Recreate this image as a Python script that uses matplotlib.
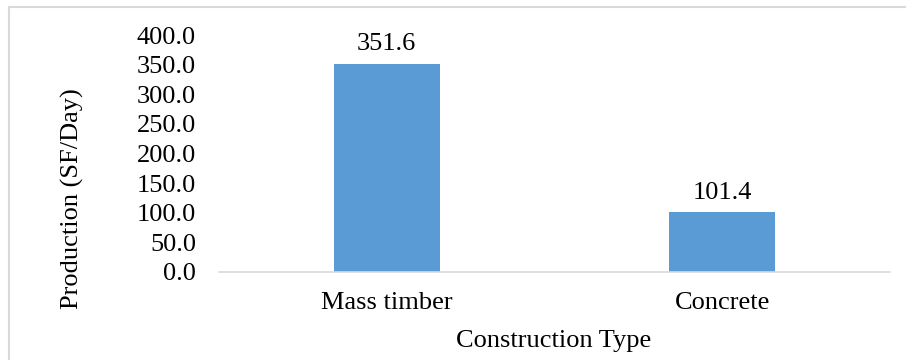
import matplotlib.pyplot as plt
from matplotlib.lines import Line2D

categories = ['Mass timber', 'Concrete']
production = [351.6, 101.4]
y_ticks = [0, 50, 100, 150, 200, 250, 300, 350, 400]

plt.rcParams['font.family'] = ['Liberation Serif', 'DejaVu Serif']
FS = 19

W, H = 906, 360
fig = plt.figure(figsize=(W / 100, H / 100), dpi=100)
ax = fig.add_axes([219 / W, 1 - 272 / H, (890 - 219) / W, (272 - 35) / H])

bars = ax.bar(range(len(categories)), production, width=0.316, color='#5B9BD5')
for b, v in zip(bars, production):
    ax.annotate(f'{v:.1f}', (b.get_x() + b.get_width() / 2, v), xytext=(0, 6),
                textcoords='offset points', ha='center', va='bottom', fontsize=FS)

ax.set_xlim(-0.5, 1.5)
ax.set_ylim(0, 400)
ax.set_xticks(range(len(categories)))
ax.set_xticklabels(categories, fontsize=FS)
ax.set_yticks(y_ticks)
ax.set_yticklabels([f'{t:.1f}' for t in y_ticks], fontsize=FS)
ax.tick_params(length=0)
ax.tick_params(axis='y', pad=16.5)
ax.tick_params(axis='x', pad=14.5)
for s in ['top', 'right', 'left']:
    ax.spines[s].set_visible(False)
ax.spines['bottom'].set_color('#D9D9D9')
ax.spines['bottom'].set_linewidth(1.2)

fig.text(72 / W, 1 - 199 / H, 'Production (SF/Day)', rotation=90, ha='center', va='center', fontsize=FS)
fig.text(554 / W, 1 - 341 / H, 'Construction Type', ha='center', va='center', fontsize=FS)

# outer chart border (left and top visible)
fig.add_artist(Line2D([9 / W, 9 / W], [0, 1 - 7 / H], color='#D9D9D9', lw=1.5))
fig.add_artist(Line2D([9 / W, 1], [1 - 7 / H, 1 - 7 / H], color='#D9D9D9', lw=1.5))

fig.savefig('out.png', dpi=100)
